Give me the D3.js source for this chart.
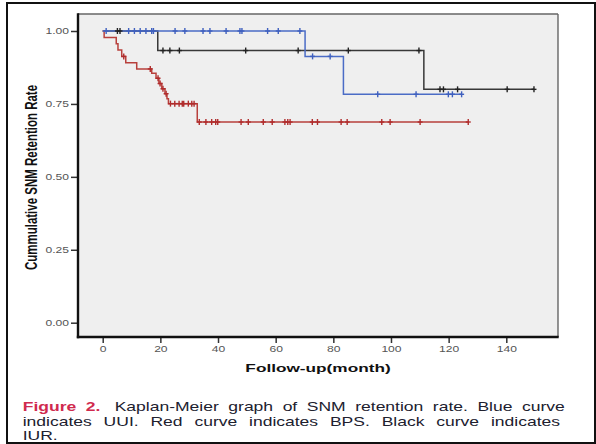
<!DOCTYPE html>
<html><head><meta charset="utf-8">
<script src="https://cdn.jsdelivr.net/npm/d3@7"></script>
<style>html,body{margin:0;padding:0;background:#fff;} svg{display:block;}</style>
</head><body>
<svg id="chart" width="596" height="444"></svg>
<script>
// ---- tick labels ----
const xTickValues = [0, 20, 40, 60, 80, 100, 120, 140];
const yTickValues = [0, 0.25, 0.5, 0.75, 1];

// ---- UUI (blue) ----
const uuiDropTimes = [70.2, 83.5];
const uuiDropSurv  = [0.913, 0.783];
const uuiCensored  = [1.2, 9, 11, 13, 15, 17, 17.6, 25.1, 28.5, 34.8, 37.2, 42.8, 47.6, 48.3, 57.2, 60.9, 68.4, 72.8, 78.9, 95.4, 108.7, 119.9, 121.3, 124.5];

// ---- BPS (red) ----
const bpsDropTimes = [0.5, 4.7, 5.3, 6.6, 8.0, 11.8, 17.0, 18.5, 19.5, 20.5, 21.6, 22.3, 22.8, 32.8];
const bpsDropSurv  = [0.978, 0.956, 0.935, 0.913, 0.891, 0.870, 0.855, 0.838, 0.820, 0.802, 0.785, 0.768, 0.751, 0.688];
const bpsCensored  = [7.3, 16.5, 19.2, 19.9, 20.9, 22.0, 23.5, 25, 26.5, 27.6, 28.1, 29.7, 30.9, 31.7, 33.5, 35.8, 37.8, 39.2, 39.9, 48, 50.5, 55.7, 58.8, 63.2, 64.2, 65, 72.7, 74.5, 82.7, 84.8, 96.8, 99.7, 110.1, 126.8];

// ---- IUR (black) ----
const iurDropTimes = [19.1, 111.4];
const iurDropSurv  = [0.933, 0.80];
const iurCensored  = [5.1, 6.0, 20.9, 23.3, 26.6, 49.6, 67.8, 85.2, 109.7, 117, 118.2, 123.1, 140.3, 149.6];

const xTitle = "Follow-up(month)";
const yTitle = "Cummulative SNM Retention Rate";
const captionLabel = "Figure 2.";
const captionLines = ["Kaplan-Meier graph of SNM retention rate. Blue curve",
                      "indicates UUI. Red curve indicates BPS. Black curve indicates",
                      "IUR."];

// ---- layout ----
const SX = 1.46; // horizontal stretch of the original figure
const plot = {left: 78, right: 558, top: 14, bottom: 337};
const x = d3.scaleLinear().domain([0, 140]).range([102.7, 506.3]);
const y = d3.scaleLinear().domain([0, 1]).range([322.7, 31]);
const FONT = "'Liberation Sans', Arial, Helvetica, sans-serif";

const svg = d3.select("#chart");
svg.append("rect").attr("width", 596).attr("height", 444).attr("fill", "#fff");
svg.append("rect").attr("x", 7).attr("y", 3).attr("width", 588).attr("height", 440)
  .attr("fill", "none").attr("stroke", "#111").attr("stroke-width", 2);

// plot background and frame
svg.append("rect").attr("x", plot.left).attr("y", plot.top)
  .attr("width", plot.right - plot.left).attr("height", plot.bottom - plot.top)
  .attr("fill", "#efefef");
svg.append("line").attr("x1", plot.left).attr("x2", plot.right).attr("y1", plot.top).attr("y2", plot.top)
  .attr("stroke", "#666").attr("stroke-width", 1.4);
svg.append("line").attr("x1", plot.right).attr("x2", plot.right).attr("y1", plot.top).attr("y2", plot.bottom)
  .attr("stroke", "#666").attr("stroke-width", 1.4);

// axes
const gx = svg.append("g").attr("transform", `translate(0,${plot.bottom})`)
  .call(d3.axisBottom(x).tickValues(xTickValues).tickSize(6).tickPadding(3).tickFormat(d3.format("d")));
const gy = svg.append("g").attr("transform", `translate(${plot.left},0)`)
  .call(d3.axisLeft(y).tickValues(yTickValues).tickSize(7).tickPadding(2).tickFormat(d3.format(".2f")));
[gx, gy].forEach(g => {
  g.select(".domain").remove();
  g.selectAll(".tick line").attr("stroke", "#333").attr("stroke-width", 1.5);
  g.selectAll(".tick text").attr("fill", "#555").style("font-family", FONT).style("font-size", "8.3px")
    .each(function() {
      const t = d3.select(this);
      const tx = +t.attr("x") || 0;
      t.attr("x", 0).attr("transform", `translate(${tx},0) scale(${SX},1)`);
    });
});
svg.append("line").attr("x1", plot.left).attr("x2", plot.left).attr("y1", plot.top - 0.7).attr("y2", plot.bottom + 1.2)
  .attr("stroke", "#111").attr("stroke-width", 2.4);
svg.append("line").attr("x1", plot.left - 1.2).attr("x2", plot.right + 0.7).attr("y1", plot.bottom).attr("y2", plot.bottom)
  .attr("stroke", "#111").attr("stroke-width", 2.4);

// KM curves
function survAt(times, surv, t) {
  let s = 1;
  for (let i = 0; i < times.length; i++) if (times[i] <= t) s = surv[i];
  return s;
}
const series = [
  {times: iurDropTimes, surv: iurDropSurv, cens: iurCensored, color: "#383838", mark: "#222"},
  {times: bpsDropTimes, surv: bpsDropSurv, cens: bpsCensored, color: "#b8403c", mark: "#b02c2c"},
  {times: uuiDropTimes, surv: uuiDropSurv, cens: uuiCensored, color: "#4b6cc6", mark: "#3f60bf"}
];
const line = d3.line().x(d => x(d[0])).y(d => y(d[1])).curve(d3.curveStepAfter);
series.forEach(s => {
  const end = d3.max(s.cens.concat(s.times));
  const pts = [[0, 1]].concat(s.times.map((t, i) => [t, s.surv[i]]));
  pts.push([end, survAt(s.times, s.surv, end)]);
  svg.append("path").datum(pts).attr("d", line).attr("fill", "none")
    .attr("stroke", s.color).attr("stroke-width", 1.5);
});
[series[2], series[1], series[0]].forEach(s => {
  const g = svg.append("g").attr("stroke", s.mark).attr("stroke-width", 1.4);
  s.cens.forEach(t => {
    const cx = x(t), cy = y(survAt(s.times, s.surv, t));
    g.append("line").attr("x1", cx).attr("x2", cx).attr("y1", cy - 3).attr("y2", cy + 3);
    g.append("line").attr("x1", cx - 2.5).attr("x2", cx + 2.5).attr("y1", cy).attr("y2", cy);
  });
});

// axis titles
svg.append("text").attr("transform", `translate(318,372) scale(${SX},1)`)
  .attr("text-anchor", "middle").style("font-family", FONT).style("font-weight", "bold")
  .style("font-size", "11.8px").attr("fill", "#111").text(xTitle);
svg.append("text").attr("transform", `translate(37,177.5) scale(${SX},1) rotate(-90)`)
  .attr("text-anchor", "middle").style("font-family", FONT).style("font-weight", "bold")
  .style("font-size", "11.5px").attr("fill", "#111").text(yTitle);

// caption
const capLeft = 22.7, capRight = 560;
const target = (capRight - capLeft) / SX;
function capText(yy) {
  return svg.append("text").attr("transform", `translate(${capLeft},${yy}) scale(${SX},1)`)
    .style("font-family", FONT).style("font-size", "12px").attr("fill", "#20202e");
}
const t1 = capText(410.5);
t1.append("tspan").style("font-weight", "bold").attr("fill", "#d02a4e").text(captionLabel);
t1.append("tspan").attr("dx", 3.3).text(" " + captionLines[0]);
const t2 = capText(425.5);
t2.text(captionLines[1]);
[[t1, (captionLabel + " " + captionLines[0]).split(" ").length - 1],
 [t2, captionLines[1].split(" ").length - 1]].forEach(([t, n]) => {
  const w = t.node().getComputedTextLength();
  t.style("word-spacing", ((target - w) / n) + "px");
});
capText(440).text(captionLines[2]);
</script>
</body></html>
